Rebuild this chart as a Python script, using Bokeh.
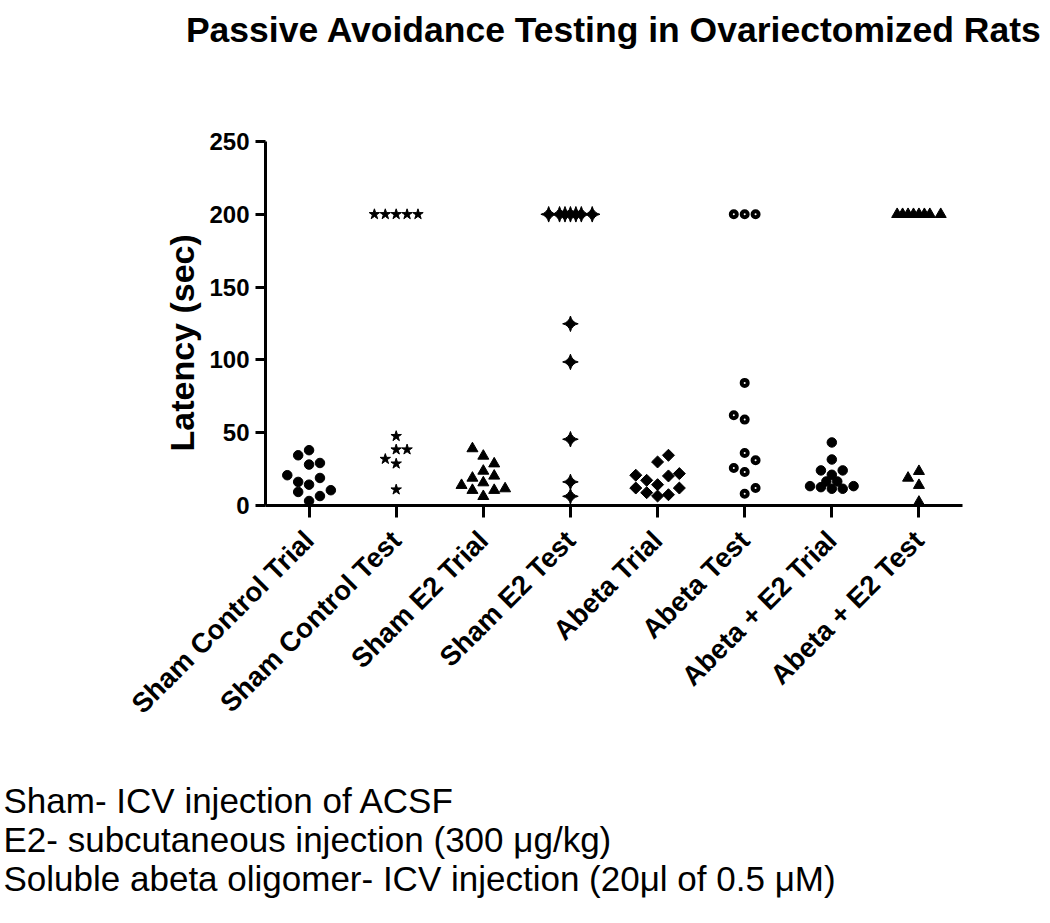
import math
from bokeh.plotting import figure
from bokeh.models import Title, FactorRange, Range1d, FixedTicker, ColumnDataSource
from bokeh.embed import file_html
from bokeh.resources import INLINE

categories = ["Sham Control Trial", "Sham Control Test", "Sham E2 Trial", "Sham E2 Test",
              "Abeta Trial", "Abeta Test", "Abeta + E2 Trial", "Abeta + E2 Test"]
y_ticks = [0, 50, 100, 150, 200, 250]

# latency values (sec)
sham_control_trial = [38.0, 34.5, 28.1, 29.2, 20.8, 18.9, 16.2, 14.3, 9.3, 10.5, 6.5, 3.1]
sham_control_test = [200, 200, 200, 200, 200, 47.6, 38.4, 38.4, 31.9, 28.7, 10.9]
sham_e2_trial = [39.1, 34.0, 28.7, 23.7, 18.9, 20.3, 13.9, 15.7, 10.5, 10.5, 11.6, 6.3]
sham_e2_test = [200, 200, 200, 200, 200, 200, 200, 124.8, 98.6, 45.5, 16.2, 6.3]
abeta_trial = [34.5, 29.9, 20.8, 17.3, 20.3, 21.9, 12.0, 14.3, 8.8, 12.0, 6.5, 7.4]
abeta_test = [200, 200, 200, 84.2, 62.0, 59.0, 36.1, 31.1, 25.8, 23.0, 8.1, 12.0]
abeta_e2_trial = [43.3, 31.6, 24.1, 24.1, 21.1, 16.5, 16.5, 13.3, 12.6, 11.5, 11.5, 13.3]
abeta_e2_test = [200, 200, 200, 200, 200, 200, 200, 200, 18.9, 23.5, 13.9, 2.4]

# horizontal scatter slot of each point (in half-column steps)
sham_control_trial_slot = [0, -2, 0, 2, -4, 2, -2, 0, -2, 4, 2, 0]
sham_control_test_slot = [-4, -2, 0, 2, 4, 0, 0, 2, -2, 0, 0]
sham_e2_trial_slot = [-2, 0, 2, 0, -2, 2, -4, 0, -2, 2, 4, 0]
sham_e2_test_slot = [-4, -2, -1, 0, 1, 2, 4, 0, 0, 0, 0, 0]
abeta_trial_slot = [2, 0, -4, -2, 2, 4, -4, 0, -2, 4, 0, 2]
abeta_test_slot = [-2, 0, 2, 0, -2, 0, 0, 2, -2, 0, 0, 2]
abeta_e2_trial_slot = [0, 0, -2, 2, 0, -1, 1, -4, -2, 0, 2, 4]
abeta_e2_test_slot = [-4, -3, -2, -1, 0, 1, 2, 4, -2, 0, 0, 0]

title_text = "Passive Avoidance Testing in Ovariectomized Rats"
y_label = "Latency (sec)"
notes = ["Sham- ICV injection of ACSF",
         "E2- subcutaneous injection (300 \u03bcg/kg)",
         "Soluble abeta oligomer- ICV injection (20\u03bcl of 0.5 \u03bcM)"]

SLOT = 0.0625
FONT = "Liberation Sans"

p = figure(x_range=FactorRange(factors=categories, range_padding=0),
           y_range=Range1d(0, 250),
           frame_width=697, frame_height=364,
           output_backend="svg", toolbar_location=None,
           min_border_left=265, min_border_right=80, min_border_top=140,
           min_border_bottom=0, background_fill_color="white")
p.outline_line_color = None
p.xgrid.visible = False
p.ygrid.visible = False

groups = [
    (sham_control_trial, sham_control_trial_slot, dict(marker="circle", size=9.5)),
    (sham_control_test, sham_control_test_slot, dict(marker="star", size=11)),
    (sham_e2_trial, sham_e2_trial_slot, dict(marker="triangle", size=11)),
    (sham_e2_test, sham_e2_test_slot, dict(marker="square_pin", size=11, angle=math.pi / 4)),
    (abeta_trial, abeta_trial_slot, dict(marker="square", size=8.5, angle=math.pi / 4)),
    (abeta_test, abeta_test_slot, dict(marker="circle", size=6, fill_color="white", line_width=4)),
    (abeta_e2_trial, abeta_e2_trial_slot, dict(marker="circle", size=9.5)),
    (abeta_e2_test, abeta_e2_test_slot, dict(marker="triangle", size=11)),
]

for cat, (vals, slots, style) in zip(categories, groups):
    xs = [(cat, s * SLOT) for s in slots]
    src = ColumnDataSource(dict(x=xs, y=vals))
    kw = dict(line_color="black", fill_color="black")
    kw.update(style)
    p.scatter("x", "y", source=src, **kw)

# axes
for ax in (p.xaxis[0], p.yaxis[0]):
    ax.axis_line_width = 3
    ax.axis_line_color = "black"
    ax.major_tick_line_width = 3
    ax.major_tick_line_color = "black"
    ax.major_tick_in = 0
    ax.minor_tick_line_color = None
    ax.major_label_text_font = FONT
    ax.major_label_text_font_style = "bold"
    ax.major_label_text_color = "black"

p.xaxis.major_tick_out = 12
p.xaxis.major_label_orientation = math.pi / 4
p.xaxis.major_label_text_font_size = "27.5px"
p.xaxis.major_label_standoff = 18

p.yaxis.ticker = FixedTicker(ticks=y_ticks)
p.yaxis.major_tick_out = 10
p.yaxis.major_label_text_font_size = "24px"
p.yaxis.major_label_standoff = 6

# y axis title (side title, starting a little above the bottom of the axis)
p.add_layout(Title(text=y_label, align="left", offset=54, standoff=12,
                   text_font=FONT, text_font_style="bold", text_font_size="34px",
                   text_color="black"), "left")

# main title (top of a tall panel)
p.add_layout(Title(text=title_text + "\n\n", align="center", vertical_align="top",
                   standoff=19, text_line_height=1.0,
                   text_font=FONT, text_font_style="bold", text_font_size="35.5px",
                   text_color="black"), "above")

# footnotes (one block, a blank first line gives the gap under the axis)
p.add_layout(Title(text="\n" + "\n".join(notes), align="left", offset=-262,
                   vertical_align="top", standoff=16, text_line_height=1.0,
                   text_font=FONT, text_font_style="normal", text_font_size="35px",
                   text_color="black"), "below")

open("out.html", "w").write(file_html(p, INLINE))
